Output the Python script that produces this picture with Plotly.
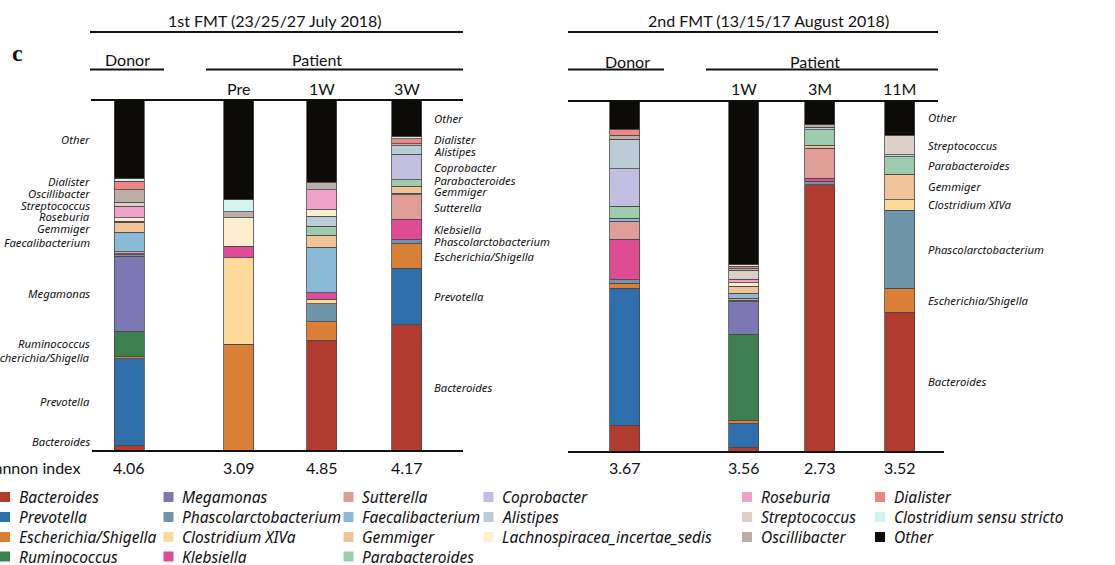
import plotly.graph_objects as go

W, H = 1115, 565
OFF = 0  # body margin removed via post_script

# ---------------- data ----------------
samples = ["Donor 1st", "Pre", "1W (1st)", "3W", "Donor 2nd", "1W (2nd)", "3M", "11M"]
shannon = ["4.06", "3.09", "4.85", "4.17", "3.67", "3.56", "2.73", "3.52"]

taxa = ["Bacteroides", "Prevotella", "Escherichia/Shigella", "Ruminococcus", "Megamonas",
        "Phascolarctobacterium", "Clostridium XIVa", "Klebsiella", "Sutterella",
        "Faecalibacterium", "Gemmiger", "Parabacteroides", "Coprobacter", "Alistipes",
        "Lachnospiracea_incertae_sedis", "Roseburia", "Streptococcus", "Oscillibacter",
        "Dialister", "Clostridium sensu stricto", "Other"]

#                       D1    Pre   1W1   3W    D2    1W2   3M    11M
bacteroides        = [1.7,  0.0, 31.6, 36.0,  7.4,  1.1, 75.8, 39.6]
prevotella         = [24.6, 0.0,  0.0, 16.0, 39.0,  6.8,  0.0,  0.0]
escherichia        = [0.7, 30.4,  5.2,  7.0,  1.4,  0.9,  0.0,  6.8]
ruminococcus       = [7.1,  0.0,  0.0,  0.0,  0.0, 24.4,  0.0,  0.0]
megamonas          = [21.4, 0.0,  0.0,  0.0,  0.0,  9.3,  0.0,  0.0]
phascolarctobact   = [0.4,  0.0,  5.2,  1.2,  1.0,  0.4,  1.0, 22.2]
clostridium_xiva   = [0.0, 24.7,  1.2,  0.0,  0.0,  0.0,  0.0,  3.0]
klebsiella         = [0.3,  3.3,  1.9,  5.8, 11.6,  0.0,  0.9,  0.0]
sutterella         = [0.5,  0.0,  0.0,  7.0,  5.1,  0.6,  8.6,  0.0]
faecalibacterium   = [5.6,  0.0, 13.0,  0.5,  0.8,  1.4,  0.0,  0.0]
gemmiger           = [2.9,  0.0,  3.4,  2.0,  0.0,  2.1,  0.8,  7.3]
parabacteroides    = [0.2,  0.0,  2.6,  1.8,  3.5,  0.0,  4.4,  5.0]
coprobacter        = [0.0,  0.0,  0.0,  7.2, 10.6,  0.0,  0.0,  0.0]
alistipes          = [0.0,  0.0,  2.8,  2.5,  8.4,  0.0,  0.8,  0.5]
lachnospiracea     = [1.1,  8.1,  1.9,  0.0,  0.0,  0.9,  0.0,  0.0]
roseburia          = [3.2,  0.0,  5.7,  0.0,  0.0,  1.0,  0.0,  0.0]
streptococcus      = [1.1,  0.0,  0.0,  0.0,  0.0,  2.6,  0.0,  5.5]
oscillibacter      = [3.6,  1.7,  2.0,  0.6,  1.2,  0.5,  0.7,  0.0]
dialister          = [2.4,  0.0,  0.0,  1.3,  1.7,  0.6,  0.0,  0.0]
clostridium_ss     = [0.8,  3.4,  0.0,  0.6,  0.0,  0.5,  0.0,  0.0]
other              = [22.4, 28.4, 23.5, 10.5,  8.3, 46.9,  7.0, 10.1]

values = [bacteroides, prevotella, escherichia, ruminococcus, megamonas, phascolarctobact,
          clostridium_xiva, klebsiella, sutterella, faecalibacterium, gemmiger, parabacteroides,
          coprobacter, alistipes, lachnospiracea, roseburia, streptococcus, oscillibacter,
          dialister, clostridium_ss, other]

# labelled taxa next to bars
labels_left_d1 = ["Other", "Dialister", "Oscillibacter", "Streptococcus", "Roseburia", "Gemmiger",
                  "Faecalibacterium", "Megamonas", "Ruminococcus", "Escherichia/Shigella",
                  "Prevotella", "Bacteroides"]
labels_right_3w = ["Other", "Dialister", "Alistipes", "Coprobacter", "Parabacteroides", "Gemmiger",
                   "Sutterella", "Klebsiella", "Phascolarctobacterium", "Escherichia/Shigella",
                   "Prevotella", "Bacteroides"]
labels_right_11m = ["Other", "Streptococcus", "Parabacteroides", "Gemmiger", "Clostridium XIVa",
                    "Phascolarctobacterium", "Escherichia/Shigella", "Bacteroides"]

# ---------------- styles / layout ----------------
colors = ["#B03B2E", "#2E6EAB", "#D98036", "#3D8050", "#7D77B4", "#6E95AA", "#FBDA9A",
          "#DE4C96", "#E09D98", "#8ABAD6", "#F1C497", "#9CCCAD", "#C1BEE2", "#BBCCD6",
          "#FDEED0", "#F0A3C9", "#DCD0C8", "#BCAEA6", "#F08585", "#D4F3EE", "#0D0B07"]

xpos = [129, 238.5, 321.5, 406.5, 624.5, 743.5, 819.5, 899.5]   # bar centres (px)
bar_w = 30
y_top_px, y_bot_px = 100, 451
legend_cols = [[0, 1, 2, 3], [4, 5, 6, 7], [8, 9, 10, 11], [12, 13, 14], [15, 16, 17], [18, 19, 20]]
legend_sq_x = [0, 163.5, 343.5, 483.5, 742, 875]
legend_row_y = [497, 517, 537, 556.5]

FONT = "Noto Sans"
HFONT = "Lato"

fig = go.Figure()
for i, name in enumerate(taxa):
    fig.add_trace(go.Bar(
        x=xpos, y=values[i], name=name, width=bar_w, showlegend=False,
        marker=dict(color=colors[i], line=dict(color="#4a4a4a", width=0.8)),
        hovertemplate=name + ": %{y}%<extra></extra>",
    ))

def py(p):
    return 1 - (p - OFF) / H

def px(p):
    return (p - OFF) / W

fig.update_layout(
    width=W, height=H, margin=dict(l=0, r=0, t=0, b=0, autoexpand=False),
    barmode="stack", plot_bgcolor="white", paper_bgcolor="white",
    xaxis=dict(range=[OFF, W + OFF], visible=False, domain=[0, 1], fixedrange=True),
    yaxis=dict(range=[0, 100], visible=False, domain=[py(y_bot_px), py(y_top_px)], fixedrange=True),
    font=dict(family=FONT, color="#111"),
    showlegend=False,
)

ann = []
shapes = []
def text(x, y, s, size=15, xa="center", italic=False, family=FONT, bold=False, color="#111"):
    ann.append(dict(x=px(x), y=py(y), xref="paper", yref="paper", text=("<b>%s</b>" % s) if bold else s,
                    showarrow=False, xanchor=xa, yanchor="middle",
                    font=dict(family=family, size=size, color=color, style="italic" if italic else "normal")))

# headers
text(275, 20, "1st FMT (23/25/27 July 2018)", 16, family=HFONT)
text(768, 20, "2nd FMT (13/15/17 August 2018)", 16, family=HFONT)
text(127, 60, "Donor", 16, family=HFONT)
text(317, 60, "Patient", 16, family=HFONT)
text(627, 61, "Donor", 16, family=HFONT)
text(815, 61, "Patient", 16, family=HFONT)
for k, lab in [(1, "Pre"), (2, "1W"), (3, "3W"), (5, "1W"), (6, "3M"), (7, "11M")]:
    text(xpos[k], 88, lab, 16, family=HFONT)
text(17, 53, "c", 24, family="Liberation Serif", bold=True)

# shannon
text(82, 467, "Shannon index", 16, xa="right", family=HFONT)
for k, v in enumerate(shannon):
    text(xpos[k], 467, v, 16, family=HFONT)

# side labels at segment midpoints, de-overlapped by centring clusters
def seg_mid(sample_idx, taxon):
    t = taxa.index(taxon)
    below = sum(values[j][sample_idx] for j in range(t))
    return below + values[t][sample_idx] / 2

def place(sample_idx, names, x, xa, gap=3.3, lo=2.8):
    ideal = [seg_mid(sample_idx, n) for n in names]  # descending
    blocks = [[i] for i in range(len(names))]
    def centre(b):
        return sum(ideal[i] for i in b) / len(b)
    def top(b):
        return centre(b) + gap * (len(b) - 1) / 2
    def bottom(b):
        return centre(b) - gap * (len(b) - 1) / 2
    changed = True
    while changed:
        changed = False
        for k in range(len(blocks) - 1):
            if bottom(blocks[k]) - top(blocks[k + 1]) < gap:
                blocks[k] = blocks[k] + blocks[k + 1]
                del blocks[k + 1]
                changed = True
                break
    ys = []
    for b in blocks:
        t = top(b)
        for j, _ in enumerate(b):
            ys.append(t - j * gap)
    if ys[-1] < lo:
        ys[-1] = lo
        for i in range(len(ys) - 2, -1, -1):
            ys[i] = max(ys[i], ys[i + 1] + gap)
    for n, yv in zip(names, ys):
        ypix = y_bot_px - yv / 100 * (y_bot_px - y_top_px)
        text(x, ypix, n, 11.3, xa=xa, italic=True)

place(0, labels_left_d1, 92, "right")
place(3, labels_right_3w, 432, "left")
place(7, labels_right_11m, 926, "left")

# legend (drawn manually, column-major like the reference)
for ci, col in enumerate(legend_cols):
    for ri, t in enumerate(col):
        x0 = legend_sq_x[ci]
        yc = legend_row_y[ri]
        shapes.append(dict(type="rect", xref="paper", yref="paper", x0=px(x0), x1=px(x0 + 10),
                           y0=py(yc + 5), y1=py(yc - 5), line=dict(width=0), fillcolor=colors[t]))
        text(x0 + 16.5, yc, taxa[t], 15.5, xa="left", italic=True)

# rules
def hline(x0, x1, y, w=2):
    shapes.append(dict(type="line", xref="paper", yref="paper", x0=px(x0), x1=px(x1), y0=py(y), y1=py(y),
                       line=dict(color="#111", width=w)))
hline(90, 463, 32); hline(90, 164, 69.5); hline(206, 463, 69.5); hline(91, 463, 100); hline(92, 463, 451)
hline(568, 938, 32); hline(568, 664, 69.5); hline(706, 938, 69.5); hline(568, 938, 101); hline(568, 944, 452)

fig.update_layout(annotations=ann, shapes=shapes)
fig.write_html("out.html", config={"displayModeBar": False},
               post_script="document.body.style.margin='0';document.body.style.overflow='hidden';")
